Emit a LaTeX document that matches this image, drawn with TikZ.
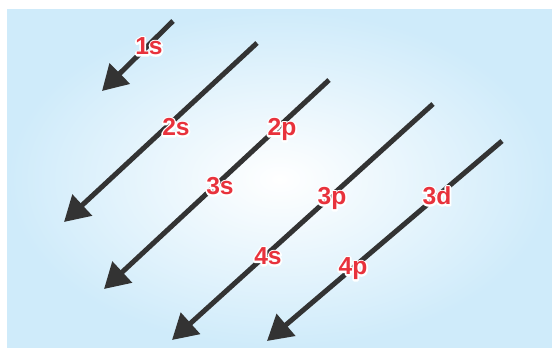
\documentclass[tikz,border=0pt]{standalone}
\usepackage{fontspec}
\setsansfont{Liberation Sans}
\usepackage{xcolor}
\definecolor{orbred}{HTML}{E8323C}
\definecolor{arrowgray}{HTML}{333333}
\definecolor{bgblue}{HTML}{CFEBFA}
\usepackage{tikz}
\usetikzlibrary{arrows.meta}
% white outline behind the label, drawn by the pdf text stroke mode
\newcommand{\halotext}[1]{\rlap{\special{pdf:literal direct 1 Tr 1 1 1 RG 2 w 1 j}#1\special{pdf:literal direct 0 Tr}}#1}

\begin{document}
\begin{tikzpicture}[x=0.02cm, y=-0.02cm,
  >={Triangle[length=0.5cm, width=0.56cm]},
  fillarrow/.style={->, line width=0.1cm, draw=arrowgray, fill=arrowgray},
  orbital/.style={font=\sffamily\bfseries\fontsize{14}{14}\selectfont,
    text=orbred, inner sep=0pt, text height=10pt, text depth=0pt}]

  \useasboundingbox (0,0) rectangle (552,348);
  \shade[inner color=white, outer color=bgblue] (7,10) rectangle (552,348);

  % start and end of each diagonal
  \coordinate (a1) at (173,21);  \coordinate (b1) at (102,91);
  \coordinate (a2) at (257,43);  \coordinate (b2) at (64,222);
  \coordinate (a3) at (329,80);  \coordinate (b3) at (104,289);
  \coordinate (a4) at (433,104); \coordinate (b4) at (172,340);
  \coordinate (a5) at (502,141); \coordinate (b5) at (267,341);

  \foreach \i in {1,...,5}
    \draw[fillarrow] (a\i) -- (b\i);

  \node[orbital] (s1) at (149,46)  {\halotext{1s}};
  \node[orbital] (s2) at (176,127) {\halotext{2s}};
  \node[orbital] (p2) at (282,127) {\halotext{2p}};
  \node[orbital] (s3) at (220,186) {\halotext{3s}};
  \node[orbital] (p3) at (332,196) {\halotext{3p}};
  \node[orbital] (d3) at (437,196) {\halotext{3d}};
  \node[orbital] (s4) at (268,256) {\halotext{4s}};
  \node[orbital] (p4) at (353,266) {\halotext{4p}};

\end{tikzpicture}
\end{document}
